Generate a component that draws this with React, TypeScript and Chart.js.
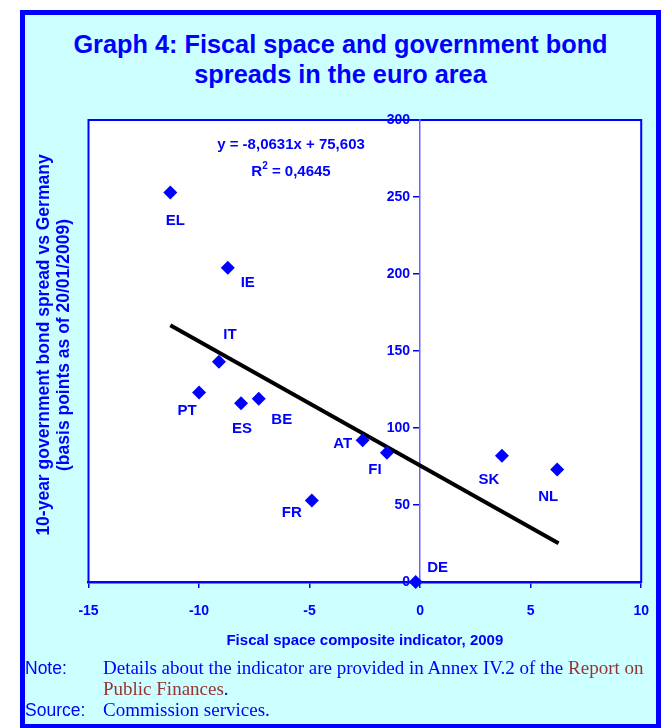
import React, { useEffect, useRef } from "react";
import { Chart, registerables } from "chart.js";

Chart.register(...registerables);

// ---------- data ----------
const countries = ["EL", "IE", "IT", "PT", "ES", "BE", "AT", "FI", "FR", "DE", "SK", "NL"];
const fiscalSpace = [-11.3, -8.7, -9.1, -10.0, -8.1, -7.3, -2.6, -1.5, -4.9, -0.2, 3.7, 6.2];
const bondSpreads = [253, 204, 143, 123, 116, 119, 92, 84, 53, 0, 82, 73];
const trendX = [-11.3, 6.26];
const trendY = [166.7, 25.1];
const xTickValues = [-15, -10, -5, 0, 5, 10];
const yTickValues = [0, 50, 100, 150, 200, 250, 300];
const titleLines = ["Graph 4: Fiscal space and government bond", "spreads in the euro area"];
const xAxisTitle = "Fiscal space composite indicator, 2009";
const yAxisTitleLines = ["10-year government bond spread vs Germany", "(basis points as of 20/01/2009)"];
const equationText = "y = -8,0631x + 75,603";
const rSquaredValue = " = 0,4645";

// ---------- styling / placement ----------
const BLUE = "#0000ff";
const FONT = "'Liberation Sans', Arial, sans-serif";
const labelOffsets: Record<string, [number, number]> = {
  EL: [5, 28],
  IE: [20, 15],
  IT: [11, -27],
  PT: [-12, 18],
  ES: [1, 25],
  BE: [23, 21],
  AT: [-20, 4],
  FI: [-12, 17],
  FR: [-20, 12],
  DE: [22, -14],
  SK: [-13, 24],
  NL: [-9, 27],
};

const plotFrame = {
  id: "plotFrame",
  beforeDraw(chart: any) {
    const { ctx, chartArea: a } = chart;
    ctx.save();
    ctx.fillStyle = "#ffffff";
    ctx.fillRect(a.left, a.top, a.right - a.left, a.bottom - a.top);
    ctx.strokeStyle = BLUE;
    ctx.lineWidth = 2;
    ctx.strokeRect(a.left, a.top, a.right - a.left, a.bottom - a.top);
    ctx.restore();
  },
};

const annotations = {
  id: "annotations",
  afterDatasetsDraw(chart: any) {
    const { ctx, chartArea: a, scales } = chart;
    ctx.save();
    ctx.fillStyle = BLUE;
    // y tick labels, placed by the y scale, left of the axis at x = 0
    const axisX = scales.x.getPixelForValue(0);
    ctx.font = `bold 14px ${FONT}`;
    ctx.textAlign = "right";
    ctx.textBaseline = "middle";
    scales.y.ticks.forEach((t: any) => {
      ctx.fillText(String(t.value), axisX - 10, scales.y.getPixelForValue(t.value));
    });
    // point labels
    ctx.font = `bold 15px ${FONT}`;
    ctx.textAlign = "center";
    const meta = chart.getDatasetMeta(0);
    meta.data.forEach((el: any, i: number) => {
      const name = countries[i];
      const off = labelOffsets[name] || [0, 0];
      ctx.fillText(name, el.x + off[0], el.y + off[1]);
    });
    // equation
    const ex = a.left + 202.5;
    ctx.font = `bold 15px ${FONT}`;
    ctx.fillText(equationText, ex, a.top + 25);
    // R^2
    ctx.textAlign = "left";
    const rW = ctx.measureText("R").width;
    ctx.font = `bold 10px ${FONT}`;
    const sW = ctx.measureText("2").width;
    ctx.font = `bold 15px ${FONT}`;
    const vW = ctx.measureText(rSquaredValue).width;
    const total = rW + sW + vW;
    let sx = ex - total / 2;
    const ry = a.top + 52;
    ctx.fillText("R", sx, ry);
    sx += rW;
    ctx.font = `bold 10px ${FONT}`;
    ctx.fillText("2", sx, ry - 6);
    sx += sW;
    ctx.font = `bold 15px ${FONT}`;
    ctx.fillText(rSquaredValue, sx, ry);
    // y axis title
    ctx.textAlign = "center";
    ctx.font = `bold 17.5px ${FONT}`;
    const cy = (a.top + a.bottom) / 2 - 6;
    yAxisTitleLines.forEach((line, i) => {
      ctx.save();
      ctx.translate(a.left - 44.5 + i * 20, cy);
      ctx.rotate(-Math.PI / 2);
      ctx.fillText(line, 0, 0);
      ctx.restore();
    });
    ctx.restore();
  },
};

export default function App() {
  const ref = useRef<HTMLCanvasElement>(null);

  useEffect(() => {
    if (!ref.current) return;
    const chart = new Chart(ref.current, {
      type: "scatter",
      data: {
        datasets: [
          {
            label: "Countries",
            data: countries.map((_, i) => ({ x: fiscalSpace[i], y: bondSpreads[i] })),
            pointStyle: "rectRot",
            pointRadius: 7,
            pointBackgroundColor: BLUE,
            pointBorderColor: BLUE,
            pointBorderWidth: 0,
            clip: false,
            order: 0,
          } as any,
          {
            label: "Trend",
            data: trendX.map((x, i) => ({ x, y: trendY[i] })),
            showLine: true,
            borderColor: "#000000",
            borderWidth: 4,
            pointRadius: 0,
            order: 1,
          } as any,
        ],
      },
      options: {
        responsive: false,
        animation: false,
        layout: { padding: { left: 88.5, right: 17, top: 120, bottom: 6.2 } },
        plugins: {
          legend: { display: false },
          tooltip: { enabled: false },
          title: { display: false },
        },
        scales: {
          x: {
            type: "linear",
            min: -15,
            max: 10,
            position: "bottom",
            afterBuildTicks: (s: any) => {
              s.ticks = xTickValues.map((value) => ({ value }));
            },
            grid: { drawOnChartArea: false, drawTicks: true, tickLength: 6, color: BLUE, lineWidth: 1.5 },
            border: { display: true, color: BLUE, width: 2.5 },
            ticks: {
              color: BLUE,
              font: { family: FONT, size: 14, weight: "bold" },
              padding: 15,
              maxRotation: 0,
              autoSkip: false,
            },
            title: {
              display: true,
              text: xAxisTitle,
              color: BLUE,
              font: { family: FONT, size: 15, weight: "bold" },
              padding: { top: -3, bottom: 4 },
            },
          },
          y: {
            type: "linear",
            min: 0,
            max: 300,
            position: { x: 0 } as any,
            afterBuildTicks: (s: any) => {
              s.ticks = yTickValues.map((value) => ({ value }));
            },
            grid: { drawOnChartArea: false, drawTicks: true, tickLength: 6, color: BLUE, lineWidth: 1.5 },
            border: { display: true, color: "#6666ff", width: 1.5 },
            ticks: { display: false },
          },
        },
      } as any,
      plugins: [plotFrame, annotations],
    });
    return () => chart.destroy();
  }, []);

  const serif = "'Liberation Serif', 'Times New Roman', serif";
  const rowStyle: React.CSSProperties = {
    position: "absolute",
    left: 25,
    fontFamily: serif,
    fontSize: 19,
    lineHeight: "21px",
    whiteSpace: "nowrap",
    color: BLUE,
  };
  const labelStyle: React.CSSProperties = {
    display: "inline-block",
    width: 78,
    fontFamily: FONT,
    fontSize: 17.5,
  };

  return (
    <div style={{ position: "absolute", left: 0, top: 0, width: 661, height: 728, overflow: "hidden" }}>
      <div
        style={{
          position: "absolute",
          left: 20,
          top: 10,
          width: 641,
          height: 719,
          boxSizing: "border-box",
          border: `5px solid ${BLUE}`,
          background: "#ccffff",
        }}
      />
      <div
        style={{
          position: "absolute",
          left: 20,
          top: 29,
          width: 641,
          textAlign: "center",
          fontFamily: FONT,
          fontWeight: "bold",
          fontSize: 25.3,
          lineHeight: "30px",
          color: BLUE,
        }}
      >
        {titleLines.map((l, i) => (
          <div key={i}>{l}</div>
        ))}
      </div>
      <canvas ref={ref} width={664} height={660} style={{ position: "absolute", left: 0, top: 0 }} />
      <div style={{ ...rowStyle, top: 657 }}>
        <span style={labelStyle}>Note:</span>
        Details about the indicator are provided in Annex IV.2 of the{" "}
        <span style={{ color: "#993333" }}>Report on</span>
      </div>
      <div style={{ ...rowStyle, top: 678 }}>
        <span style={labelStyle}></span>
        <span style={{ color: "#993333" }}>Public Finances</span>.
      </div>
      <div style={{ ...rowStyle, top: 699 }}>
        <span style={labelStyle}>Source:</span>
        Commission services.
      </div>
    </div>
  );
}
